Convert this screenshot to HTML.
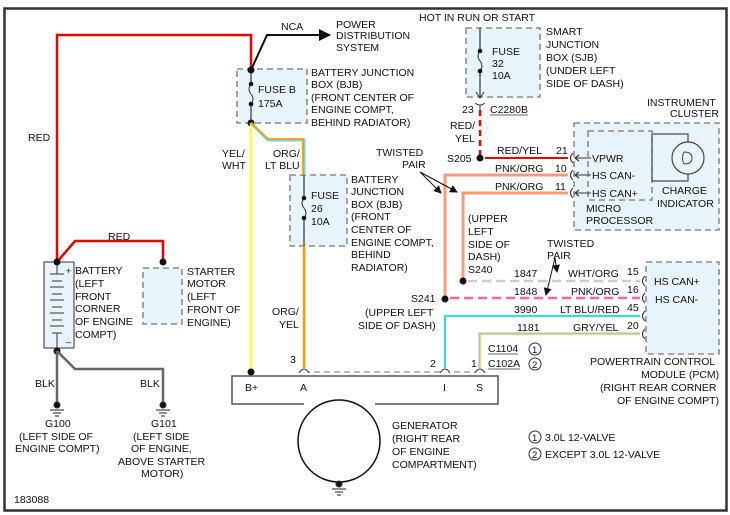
<!DOCTYPE html>
<html><head><meta charset="utf-8"><style>
html,body{margin:0;padding:0;background:#fff}
svg{display:block}
text{font-family:"Liberation Sans",Arial,sans-serif;font-size:10.5px;fill:#111}
</style></head><body>
<svg width="730" height="515" viewBox="0 0 730 515" xmlns="http://www.w3.org/2000/svg">
<defs>
<marker id="ah" markerWidth="8" markerHeight="8" refX="7" refY="4" orient="auto" markerUnits="userSpaceOnUse"><path d="M0,0 L8,4 L0,8 z" fill="#111"/></marker>
<marker id="ah2" markerWidth="12" markerHeight="12" refX="11" refY="6" orient="auto" markerUnits="userSpaceOnUse"><path d="M0,0 L12,6 L0,12 z" fill="#111"/></marker>
</defs>
<rect x="4.5" y="8.5" width="722" height="502" fill="none" stroke="#333" stroke-width="2.5"/>

<g fill="#e8f4fc" stroke="#777" stroke-dasharray="6,4" stroke-width="1.3">
<rect x="237" y="69" width="70" height="54"/>
<rect x="290" y="175" width="57" height="71"/>
<rect x="466" y="28" width="74" height="69"/>
<rect x="574" y="123" width="145" height="107"/>
<rect x="143" y="268" width="39" height="56"/>
<rect x="646" y="262" width="73" height="92"/>
</g>
<rect x="588" y="131" width="64" height="69" fill="none" stroke="#777" stroke-dasharray="6,4" stroke-width="1.3"/>
<rect x="652" y="134" width="36" height="47" fill="none" stroke="#444" stroke-width="1.2"/>
<circle cx="688" cy="158" r="16" fill="#e8f4fc" stroke="#444" stroke-width="1.2"/>
<path d="M684,152 q8,0 8,6 q0,6 -8,6 M684,152 q-3,6 0,12" fill="none" stroke="#444"/>

<polyline points="57,262 57,35 251,35 251,70" fill="none" stroke="#e00" stroke-width="2.5"/>
<polyline points="57,262 75,241 163,241 163,262" fill="none" stroke="#e00" stroke-width="2.5"/>
<polyline points="251,70 267,35 330,35" fill="none" stroke="#111" stroke-width="2" marker-end="url(#ah2)"/>
<line x1="251" y1="70" x2="251" y2="123" stroke="#333" stroke-width="1.2"/>
<line x1="251" y1="84" x2="251" y2="103" stroke="#e8f4fc" stroke-width="3"/>
<path d="M251,84 q-4,5 0,10 q4,5 0,10" fill="none" stroke="#333"/>
<circle cx="251" cy="84" r="2.3" fill="#111"/><circle cx="251" cy="104" r="2.3" fill="#111"/>
<circle cx="251" cy="70" r="3.5" fill="#111"/><circle cx="251" cy="123" r="3.5" fill="#111"/>
<line x1="251" y1="123" x2="251" y2="372" stroke="#ff3" stroke-width="2.5"/>
<circle cx="251" cy="372" r="3.5" fill="#111"/>
<polyline points="251,123 268,140 304,140 304,175" fill="none" stroke="#6dd" stroke-width="3"/>
<polyline points="251,123 268,139 303,139 303,175" fill="none" stroke="#f90" stroke-width="1.8"/>
<line x1="304" y1="175" x2="304" y2="246" stroke="#333" stroke-width="1.2"/>
<line x1="304" y1="198" x2="304" y2="217" stroke="#e8f4fc" stroke-width="3"/>
<path d="M304,198 q-4,5 0,10 q4,5 0,10" fill="none" stroke="#333"/>
<circle cx="304" cy="198" r="2.3" fill="#111"/><circle cx="304" cy="218" r="2.3" fill="#111"/>
<line x1="304" y1="246" x2="304" y2="368" stroke="#f90" stroke-width="2.5"/>
<line x1="480" y1="28" x2="480" y2="97" stroke="#333" stroke-width="1.2"/>
<line x1="480" y1="50" x2="480" y2="71" stroke="#e8f4fc" stroke-width="3"/>
<path d="M480,51 q-4,5 0,10 q4,5 0,10" fill="none" stroke="#333"/>
<circle cx="480" cy="51" r="2.3" fill="#111"/><circle cx="480" cy="71" r="2.3" fill="#111"/>
<path d="M476,92 L480,98 L484,92" fill="none" stroke="#333"/>
<path d="M475,103 q5,4 10,0 M480,105 L480,110" fill="none" stroke="#333"/>
<line x1="480" y1="110" x2="480" y2="156" stroke="#e00" stroke-width="2.5" stroke-dasharray="6,4"/>
<circle cx="480" cy="158" r="3.5" fill="#111"/>
<line x1="485" y1="158" x2="568" y2="158" stroke="#e00" stroke-width="2"/>
<polyline points="568,175 445,175 445,299" fill="none" stroke="#f99" stroke-width="3"/>
<polyline points="568,193 463,193 463,281" fill="none" stroke="#f99" stroke-width="3"/>
<polyline points="568,175 445,175 445,299" fill="none" stroke="#f93" stroke-width="0.8"/>
<polyline points="568,193 463,193 463,281" fill="none" stroke="#f93" stroke-width="0.8"/>
<g fill="none" stroke="#333" stroke-width="1.1">
<path d="M573,153 q-5,5 0,10 M573,170 q-5,5 0,10 M573,188 q-5,5 0,10"/>
<path d="M591,158 L575,158 M579,155 L575,158 L579,161 M591,175 L575,175 M579,172 L575,175 L579,178 M591,193 L575,193 M579,190 L575,193 L579,196"/>
</g>
<line x1="420" y1="172" x2="441" y2="193" stroke="#111" marker-end="url(#ah)"/>
<line x1="420" y1="172" x2="457" y2="192" stroke="#111" marker-end="url(#ah)"/>
<line x1="555" y1="258" x2="557" y2="272" stroke="#111" marker-end="url(#ah)"/>
<line x1="555" y1="258" x2="546" y2="295" stroke="#111" marker-end="url(#ah)"/>
<circle cx="463" cy="281" r="3.5" fill="#111"/>
<line x1="468" y1="281" x2="640" y2="281" stroke="#ccc" stroke-width="2.5" stroke-dasharray="9,5"/>
<circle cx="445" cy="299" r="3.5" fill="#111"/>
<line x1="450" y1="298" x2="640" y2="298" stroke="#f69" stroke-width="2.5" stroke-dasharray="9,5"/>
<polyline points="640,316 445,316 445,368" fill="none" stroke="#3dd" stroke-width="2"/>
<polyline points="640,334 480,334 480,368" fill="none" stroke="#bbb" stroke-width="3"/>
<polyline points="640,335 481,335 481,368" fill="none" stroke="#ff6" stroke-width="1"/>
<g fill="none" stroke="#333" stroke-width="1.1">
<path d="M645,276 q-5,5 0,10 M645,293 q-5,5 0,10 M645,311 q-5,5 0,10 M645,329 q-5,5 0,10"/>
</g>
<path d="M304,404 L232,404 L232,376 L498,376 L498,404 L375,404" fill="none" stroke="#555" stroke-width="1.5"/>
<line x1="304" y1="372" x2="480" y2="372" stroke="#777" stroke-dasharray="6,4"/>
<g fill="#fff" stroke="#333"><path d="M299,373 q5,-8 10,0"/><path d="M440,373 q5,-8 10,0"/><path d="M475,373 q5,-8 10,0"/></g>
<circle cx="339" cy="441" r="41" fill="#fff" stroke="#111" stroke-width="1.5"/>
<rect x="44" y="262" width="30" height="86" fill="#e8f4fc" stroke="#555" stroke-width="1.2"/>
<g stroke="#555" stroke-width="1.2">
<line x1="57" y1="262" x2="57" y2="274"/><line x1="50" y1="274" x2="64" y2="274"/>
<line x1="52" y1="281" x2="62" y2="281"/><line x1="50" y1="287" x2="64" y2="287"/><line x1="52" y1="294" x2="62" y2="294"/>
<line x1="50" y1="300" x2="64" y2="300"/><line x1="52" y1="307" x2="62" y2="307"/><line x1="50" y1="313" x2="64" y2="313"/>
<line x1="52" y1="320" x2="62" y2="320"/><line x1="50" y1="326" x2="64" y2="326"/><line x1="52" y1="333" x2="62" y2="333"/>
<line x1="57" y1="333" x2="57" y2="348"/>
</g>
<circle cx="57" cy="262" r="3.5" fill="#111"/>
<circle cx="163" cy="262" r="3.5" fill="#111"/>
<circle cx="57" cy="351" r="3.5" fill="#111"/>
<polyline points="57,351 57,403" fill="none" stroke="#666" stroke-width="2.5"/>
<polyline points="57,351 75,369 163,369 163,403" fill="none" stroke="#666" stroke-width="2.5"/>
<g stroke="#333" stroke-width="1.1">
<circle cx="57" cy="405" r="3" fill="#111"/><line x1="50" y1="410" x2="64" y2="410"/><line x1="53" y1="413" x2="61" y2="413"/><line x1="55" y1="416" x2="59" y2="416"/>
<circle cx="163" cy="405" r="3" fill="#111"/><line x1="156" y1="410" x2="170" y2="410"/><line x1="159" y1="413" x2="167" y2="413"/><line x1="161" y1="416" x2="165" y2="416"/>
<circle cx="339" cy="484" r="3" fill="#111"/><line x1="332" y1="489" x2="346" y2="489"/><line x1="335" y1="492" x2="343" y2="492"/><line x1="337" y1="495" x2="341" y2="495"/>
</g>
<g fill="none" stroke="#333"><circle cx="535" cy="349" r="6"/><circle cx="535" cy="364" r="6"/><circle cx="535" cy="437" r="6"/><circle cx="535" cy="454" r="6"/></g>
<g><text x="532" y="353" style="font-size:9.5px">1</text><text x="532" y="368" style="font-size:9.5px">2</text><text x="532" y="441" style="font-size:9.5px">1</text><text x="532" y="458" style="font-size:9.5px">2</text></g>

<text x="28" y="141">RED</text>
<text x="108" y="240">RED</text>
<text x="281" y="30">NCA</text>
<text x="336" y="28">POWER</text><text x="336" y="39">DISTRIBUTION</text><text x="336" y="51">SYSTEM</text>
<text x="311" y="76">BATTERY JUNCTION</text><text x="311" y="88">BOX (BJB)</text><text x="311" y="101">(FRONT CENTER OF</text><text x="311" y="113">ENGINE COMPT,</text><text x="311" y="126">BEHIND RADIATOR)</text>
<text x="258" y="93">FUSE B</text><text x="258" y="107">175A</text>
<text x="222" y="157">YEL/</text><text x="222" y="169">WHT</text>
<text x="273" y="157">ORG/</text><text x="265" y="169">LT BLU</text>
<text x="311" y="199">FUSE</text><text x="311" y="212">26</text><text x="311" y="225">10A</text>
<text x="351" y="183">BATTERY</text><text x="351" y="195">JUNCTION</text><text x="351" y="208">BOX (BJB)</text><text x="351" y="220">(FRONT</text><text x="351" y="233">CENTER OF</text><text x="351" y="246">ENGINE COMPT,</text><text x="351" y="258">BEHIND</text><text x="351" y="271">RADIATOR)</text>
<text x="419" y="21">HOT IN RUN OR START</text>
<text x="492" y="55">FUSE</text><text x="492" y="67">32</text><text x="492" y="79">10A</text>
<text x="546" y="35">SMART</text><text x="546" y="48">JUNCTION</text><text x="546" y="61">BOX (SJB)</text><text x="546" y="74">(UNDER LEFT</text><text x="546" y="87">SIDE OF DASH)</text>
<text x="462" y="113">23</text><text x="490" y="113">C2280B</text><line x1="490" y1="115" x2="528" y2="115" stroke="#333" stroke-width="0.8"/>
<text x="450" y="129">RED/</text><text x="455" y="142">YEL</text>
<text x="447" y="162">S205</text>
<text x="647" y="106">INSTRUMENT</text><text x="670" y="117">CLUSTER</text>
<text x="497" y="154">RED/YEL</text><text x="556" y="154">21</text>
<text x="495" y="172">PNK/ORG</text><text x="555" y="172">10</text>
<text x="495" y="190">PNK/ORG</text><text x="555" y="190">11</text>
<text x="592" y="162">VPWR</text><text x="592" y="179">HS CAN-</text><text x="592" y="197">HS CAN+</text>
<text x="662" y="194">CHARGE</text><text x="657" y="207">INDICATOR</text>
<text x="586" y="212">MICRO</text><text x="586" y="224">PROCESSOR</text>
<text x="376" y="156">TWISTED</text><text x="402" y="168">PAIR</text>
<text x="468" y="222">(UPPER</text><text x="468" y="235">LEFT</text><text x="468" y="248">SIDE OF</text><text x="468" y="260">DASH)</text><text x="468" y="273">S240</text>
<text x="547" y="247">TWISTED</text><text x="547" y="259">PAIR</text>
<text x="514" y="277">1847</text><text x="568" y="277">WHT/ORG</text><text x="627" y="275">15</text>
<text x="514" y="295">1848</text><text x="571" y="295">PNK/ORG</text><text x="627" y="293">16</text>
<text x="514" y="313">3990</text><text x="560" y="313">LT BLU/RED</text><text x="627" y="311">45</text>
<text x="517" y="331">1181</text><text x="573" y="331">GRY/YEL</text><text x="627" y="329">20</text>
<text x="411" y="302">S241</text>
<text x="365" y="316">(UPPER LEFT</text><text x="358" y="329">SIDE OF DASH)</text>
<text x="654" y="285">HS CAN+</text><text x="655" y="303">HS CAN-</text>
<text x="590" y="365">POWERTRAIN CONTROL</text><text x="641" y="378">MODULE (PCM)</text><text x="600" y="391">(RIGHT REAR CORNER</text><text x="617" y="404">OF ENGINE COMPT)</text>
<text x="488" y="352">C1104</text><line x1="488" y1="354" x2="518" y2="354" stroke="#333" stroke-width="0.8"/>
<text x="488" y="367">C102A</text><line x1="488" y1="369" x2="520" y2="369" stroke="#333" stroke-width="0.8"/>
<text x="272" y="315">ORG/</text><text x="279" y="328">YEL</text>
<text x="290" y="363">3</text><text x="430" y="367">2</text><text x="471" y="367">1</text>
<text x="245" y="391">B+</text><text x="300" y="391">A</text><text x="443" y="391">I</text><text x="476" y="391">S</text>
<text x="392" y="429">GENERATOR</text><text x="392" y="442">(RIGHT REAR</text><text x="392" y="455">OF ENGINE</text><text x="392" y="468">COMPARTMENT)</text>
<text x="545" y="441">3.0L 12-VALVE</text><text x="545" y="458">EXCEPT 3.0L 12-VALVE</text>
<text x="75" y="274">BATTERY</text><text x="75" y="287">(LEFT</text><text x="75" y="300">FRONT</text><text x="75" y="312">CORNER</text><text x="75" y="325">OF ENGINE</text><text x="75" y="338">COMPT)</text>
<text x="187" y="275">STARTER</text><text x="187" y="287">MOTOR</text><text x="187" y="300">(LEFT</text><text x="187" y="313">FRONT OF</text><text x="187" y="326">ENGINE)</text>
<text x="35" y="387">BLK</text><text x="140" y="387">BLK</text>
<text x="45" y="427">G100</text><text x="19" y="440">(LEFT SIDE OF</text><text x="15" y="452">ENGINE COMPT)</text>
<text x="151" y="427">G101</text><text x="133" y="440">(LEFT SIDE</text><text x="131" y="452">OF ENGINE,</text><text x="118" y="465">ABOVE STARTER</text><text x="141" y="477">MOTOR)</text>
<text x="14" y="503">183088</text>
<text x="66" y="274" style="font-size:9px">+</text><text x="66" y="345" style="font-size:9px">–</text>
</svg>
</body></html>
